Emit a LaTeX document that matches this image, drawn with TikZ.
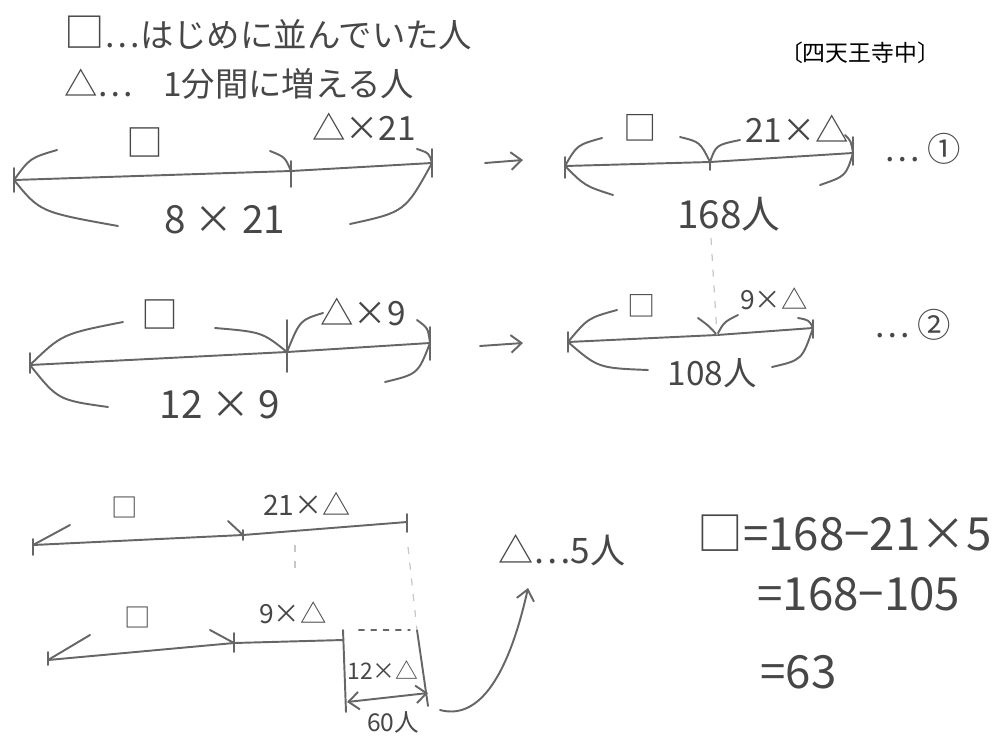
\documentclass[tikz,border=0pt]{standalone}
\usepackage{fontspec}
\setmainfont{Noto Sans CJK JP}
\usetikzlibrary{arrows.meta}

\begin{document}
\begin{tikzpicture}[x=0.02cm,y=-0.02cm]
  \tikzset{pencil/.style={draw=black!60, line width=1.1pt, line cap=round, line join=round},
    faint/.style={draw=black!22, line width=0.7pt, dash pattern=on 4pt off 5pt},
    hand/.style={text=black!72, inner sep=0pt, font=\fontsize{22}{22}\selectfont},
    upper/.style={hand, font=\fontsize{19}{19}\selectfont},
    lower/.style={hand, font=\fontsize{15}{15}\selectfont},
    calcline/.style={hand, anchor=west, font=\fontsize{26}{26}\selectfont},
    tip/.style={-{Straight Barb[length=6pt,width=10pt]}}}
  \useasboundingbox (0,0) rectangle (1006,737);

  \node[hand, anchor=west, font=\fontsize{19}{19}\selectfont] (def1) at (64,33) {{\fontsize{23}{23}\selectfont □}…はじめに並んでいた人};
  \node[hand, anchor=west, font=\fontsize{19}{19}\selectfont] (def2) at (64,84) {△…\hspace{0.9em}1分間に増える人};
  \node[font=\fontsize{13}{13}\selectfont, inner sep=0pt] (school) at (860,53) {〔四天王寺中〕};

  % (1)
  \coordinate (p1) at (14,180);
  \coordinate (p2) at (291,171);
  \coordinate (p3) at (432,163);
  \draw[pencil] (p1) -- (p2) -- (p3);
  \foreach \p/\u/\d in {p1/12/12, p2/10/16, p3/14/14}
    \draw[pencil] (\p) ++(0,-\u) -- ++(0,\u+\d);
  \draw[pencil] (p1) .. controls (30,158) .. (57,150);
  \draw[pencil] (270,151) .. controls (285,157) .. (p2);
  \draw[pencil] (417,149) .. controls (429,153) .. (p3);
  \draw[pencil] (p1) .. controls (40,212) .. (118,226);
  \draw[pencil] (350,224) .. controls (405,212) .. (p3);
  \node[hand, font=\fontsize{21}{21}\selectfont] (psq) at (145,142) {□};
  \node[upper] (ptri) at (364,127) {△×21};
  \node[hand] (ptot) at (225,220) {8 × 21};

  \coordinate (ar1a) at (485,163);
  \coordinate (ar1b) at (523,160);
  \draw[pencil, tip] (ar1a) -- (ar1b);

  \coordinate (q1) at (565,166);
  \coordinate (q2) at (710,162);
  \coordinate (q3) at (853,153);
  \draw[pencil] (q1) -- (q2) -- (q3);
  \foreach \p/\u/\d in {q1/9/12, q2/2/8, q3/16/12}
    \draw[pencil] (\p) ++(0,-\u) -- ++(0,\u+\d);
  \draw[pencil] (q1) .. controls (577,145) .. (602,138);
  \draw[pencil] (680,137) .. controls (700,142) .. (q2);
  \draw[pencil] (q2) .. controls (716,145) .. (740,140);
  \draw[pencil] (845,135) .. controls (851,141) .. (q3);
  \draw[pencil] (q1) .. controls (585,186) .. (613,195);
  \draw[pencil] (820,185) .. controls (846,176) .. (q3);
  \node[upper] (qsq) at (640,128) {□};
  \node[upper] (qtri) at (797,129) {21×△};
  \node[hand] (qtot) at (729,214) {168人};
  \node[upper] (qno) at (923,149) {… ①};

  % (2)
  \coordinate (r1) at (30,365);
  \coordinate (r2) at (287,352);
  \coordinate (r3) at (430,343);
  \draw[pencil] (r1) -- (r2) -- (r3);
  \foreach \p/\u/\d in {r1/12/8, r2/32/20, r3/16/17}
    \draw[pencil] (\p) ++(0,-\u) -- ++(0,\u+\d);
  \draw[pencil] (r1) .. controls (62,334) .. (123,322);
  \draw[pencil] (215,328) .. controls (262,332) .. (r2);
  \draw[pencil] (r2) .. controls (300,320) .. (323,313);
  \draw[pencil] (417,320) .. controls (428,328) .. (r3);
  \draw[pencil] (r1) .. controls (58,400) .. (108,407);
  \draw[pencil] (385,382) .. controls (418,374) .. (r3);
  \node[hand, font=\fontsize{21}{21}\selectfont] (rsq) at (160,314) {□};
  \node[upper] (rtri) at (363,312) {△×9};
  \node[hand] (rtot) at (220,405) {12 × 9};

  \coordinate (ar2a) at (480,346);
  \coordinate (ar2b) at (523,343);
  \draw[pencil, tip] (ar2a) -- (ar2b);

  \coordinate (s1) at (568,342);
  \coordinate (s2) at (717,335);
  \coordinate (s3) at (813,328);
  \draw[pencil] (s1) -- (s2) -- (s3);
  \foreach \p/\u/\d in {s1/10/10, s3/8/10}
    \draw[pencil] (\p) ++(0,-\u) -- ++(0,\u+\d);
  \draw[pencil] (s1) .. controls (588,318) .. (617,310);
  \draw[pencil] (698,318) .. controls (709,326) .. (s2);
  \draw[pencil] (s2) .. controls (724,322) .. (738,315);
  \draw[pencil] (798,318) .. controls (809,320) .. (s3);
  \draw[pencil] (s1) .. controls (598,368) .. (648,370);
  \draw[pencil] (772,367) .. controls (802,360) .. (s3);
  \node[lower, font=\fontsize{16}{16}\selectfont] (ssq) at (642,306) {□};
  \node[lower] (stri) at (774,299) {9×△};
  \node[hand, font=\fontsize{19}{19}\selectfont] (stot) at (712,373) {108人};
  \node[upper] (sno) at (913,325) {… ②};

  \coordinate (q2dn) at (711,238);
  \draw[faint] (q2dn) -- (s2);

  % (1)-(2)
  \coordinate (t1) at (33,545);
  \coordinate (t2) at (243,535);
  \coordinate (t3) at (407,522);
  \draw[pencil] (t1) -- (t2) -- (t3);
  \foreach \p/\u/\d in {t1/6/10, t2/5/5, t3/8/10}
    \draw[pencil] (\p) ++(0,-\u) -- ++(0,\u+\d);
  \draw[pencil] (t1) -- (70,525);
  \draw[pencil] (228,521) -- (t2);
  \node[lower] (tsq) at (125,507) {□};
  \node[lower, font=\fontsize{16}{16}\selectfont] (ttri) at (307,504) {21×△};

  \coordinate (u1) at (48,660);
  \coordinate (u2) at (234,643);
  \coordinate (u3) at (343,640);
  \draw[pencil] (u1) -- (u2) -- (u3);
  \foreach \p/\u/\d in {u1/8/5, u2/10/9}
    \draw[pencil] (\p) ++(0,-\u) -- ++(0,\u+\d);
  \draw[pencil] (u1) -- (90,635);
  \draw[pencil] (210,630) -- (u2);
  \node[lower] (usq) at (138,617) {□};
  \node[lower] (utri) at (293,613) {9×△};

  \coordinate (bx1) at (343,630);
  \coordinate (bx2) at (346,712);
  \coordinate (bx3) at (417,630);
  \coordinate (bx4) at (428,706);
  \draw[pencil] (bx1) -- (bx2);
  \draw[pencil] (bx3) -- (bx4);
  \draw[pencil, line width=0.8pt, dash pattern=on 3pt off 4pt, shorten <=9pt, shorten >=4pt] (bx1) -- (bx3);
  \draw[faint] (295,545) -- (295,572);
  \draw[faint] (t3) ++(1,25) -- (bx3);
  \node[lower, font=\fontsize{13}{13}\selectfont] (udiff) at (383,670) {12×△};
  \coordinate (da1) at (347,702);
  \coordinate (da2) at (428,693);
  \draw[pencil, {Straight Barb[length=6pt,width=10pt]}-{Straight Barb[length=6pt,width=10pt]}] (da1) -- (da2);
  \node[lower, font=\fontsize{14}{14}\selectfont] (udiffn) at (393,722) {60人};

  \coordinate (cv1) at (440,710);
  \coordinate (cv2) at (528,588);
  \draw[pencil, tip] (cv1) .. controls (485,722) and (512,660) .. (cv2);
  \node[hand, font=\fontsize{20}{20}\selectfont] (ans) at (562,550) {△…5人};

  \node[calcline] (eq1) at (697,533) {□=168−21×5};
  \node[calcline] (eq2) at (757,594) {=168−105};
  \node[calcline] (eq3) at (760,672) {=63};
\end{tikzpicture}
\end{document}
